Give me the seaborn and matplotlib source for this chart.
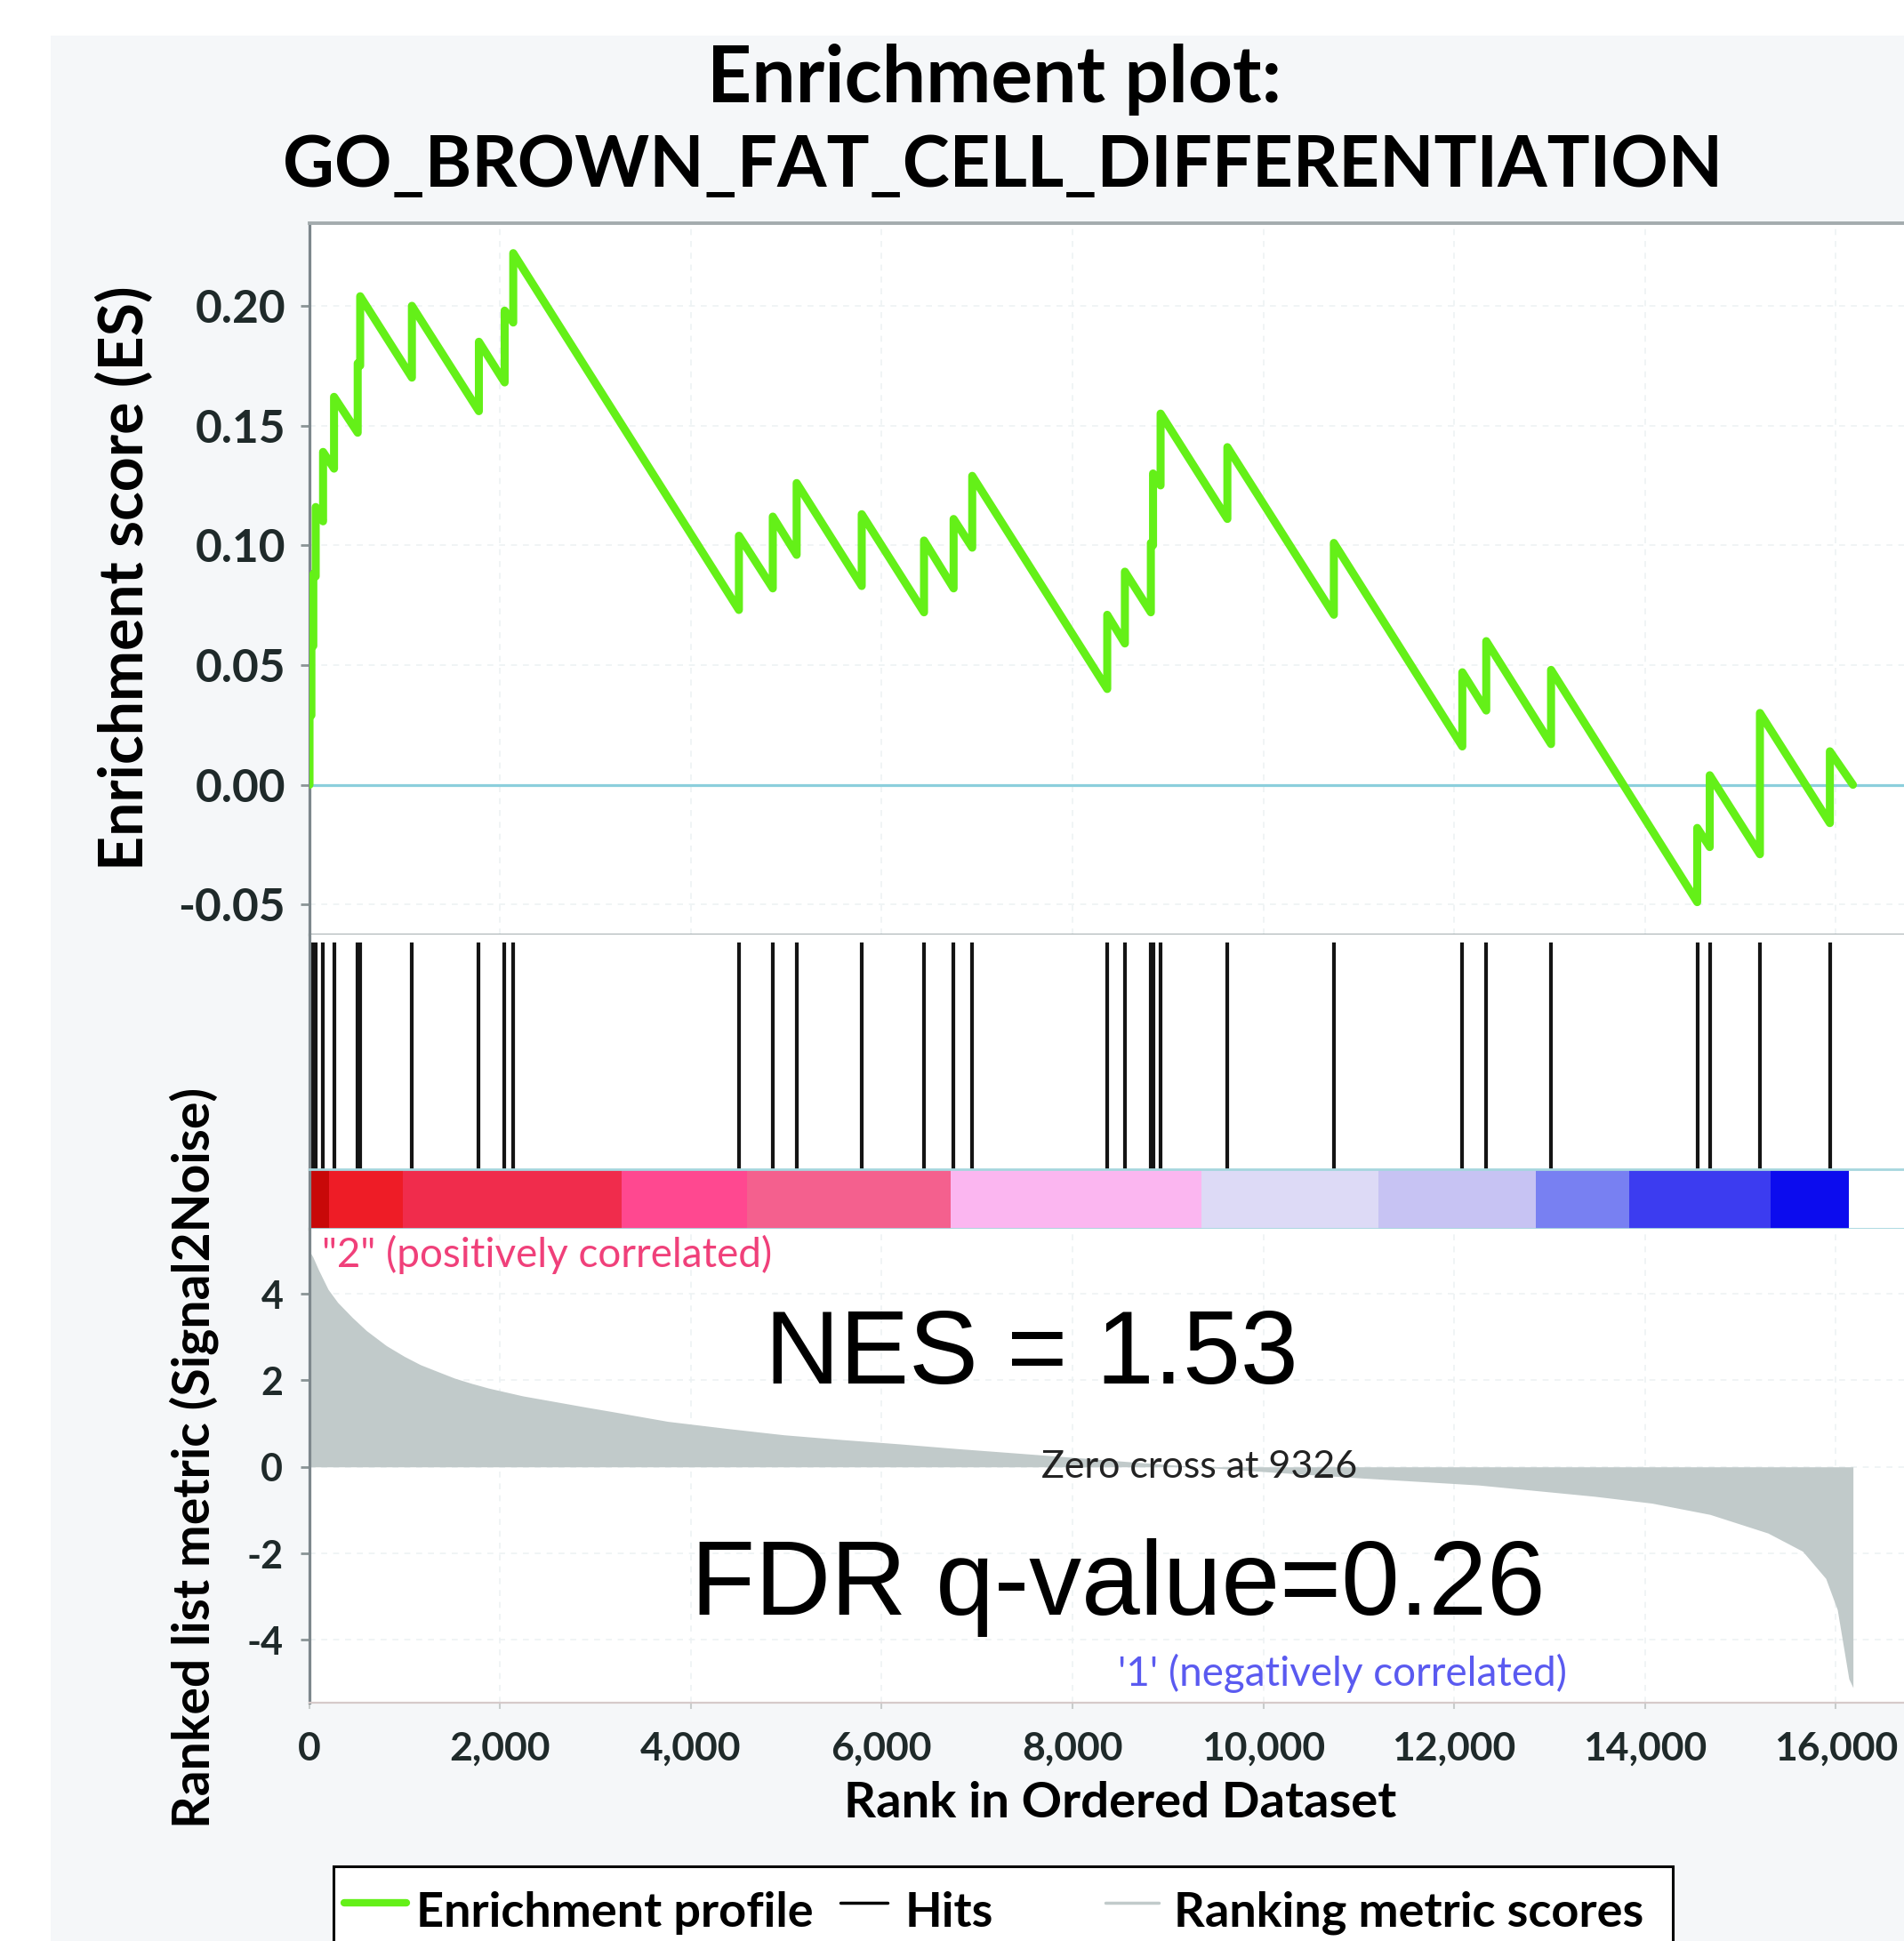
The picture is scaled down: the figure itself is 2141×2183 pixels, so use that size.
import matplotlib
matplotlib.use("Agg")
import matplotlib.pyplot as plt
import seaborn as sns
from matplotlib.lines import Line2D
from matplotlib.patches import Rectangle

# ---------------- data ----------------
N_GENES = 16180
hit_ranks = [5, 25, 45, 70, 147, 262, 510, 536, 1078, 1780, 2050, 2140,
             4505, 4860, 5110, 5792, 6445, 6755, 6950, 8365, 8550, 8822, 8845,
             8924, 9624, 10740, 12086, 12337, 13016, 14548, 14679, 15205, 15938]
es_before = [0.000, 0.029, 0.058, 0.087, 0.110, 0.132, 0.147, 0.175, 0.170, 0.156, 0.168, 0.193,
             0.073, 0.082, 0.096, 0.083, 0.072, 0.082, 0.099, 0.040, 0.059, 0.072, 0.100,
             0.125, 0.111, 0.071, 0.016, 0.031, 0.017, -0.049, -0.026, -0.029, -0.016]
es_after = [0.030, 0.059, 0.088, 0.116, 0.139, 0.162, 0.176, 0.204, 0.200, 0.185, 0.198, 0.222,
            0.104, 0.112, 0.126, 0.113, 0.102, 0.111, 0.129, 0.071, 0.089, 0.101, 0.130,
            0.155, 0.141, 0.101, 0.047, 0.060, 0.048, -0.018, 0.004, 0.030, 0.014]

metric_rank = [0, 40, 100, 200, 300, 454, 600, 810, 1000, 1167, 1350, 1524, 1700, 1880,
               2237, 2594, 2900, 3192, 3761, 4367, 4975, 5582, 6188, 6795, 7402, 8000,
               8700, 9326, 10000, 11042, 12255, 13469, 14075, 14682, 15289, 15652, 15895,
               16016, 16137, 16180]
metric_val = [5.0, 4.85, 4.55, 4.1, 3.8, 3.45, 3.15, 2.8, 2.55, 2.36, 2.2, 2.05, 1.93, 1.82,
              1.64, 1.5, 1.38, 1.27, 1.05, 0.89, 0.74, 0.63, 0.53, 0.42, 0.32, 0.22,
              0.10, 0.0, -0.11, -0.26, -0.42, -0.68, -0.84, -1.1, -1.53, -1.95, -2.58,
              -3.3, -4.9, -5.1]
zero_cross = 9326

bar_start = [0, 214, 980, 3278, 4591, 6724, 9350, 11211, 12852, 13837, 15314]
bar_end = [214, 980, 3278, 4591, 6724, 9350, 11211, 12852, 13837, 15314, 16135]
bar_colors = ["#c80808", "#ee1c26", "#f02c4c", "#ff4890", "#f4608e", "#fbb6f0",
              "#dddaf6", "#c7c3f3", "#7880f2", "#3c3cf0", "#0c0cee"]

es_yticks = [-0.05, 0.00, 0.05, 0.10, 0.15, 0.20]
es_yticklabels = ["-0.05", "0.00", "0.05", "0.10", "0.15", "0.20"]
met_yticks = [-4, -2, 0, 2, 4]
met_yticklabels = ["-4", "-2", "0", "2", "4"]
x_ticks = [0, 2000, 4000, 6000, 8000, 10000, 12000, 14000, 16000]
x_ticklabels = ["0", "2,000", "4,000", "6,000", "8,000", "10,000", "12,000", "14,000", "16,000"]

title1 = "Enrichment plot:"
title2 = "GO_BROWN_FAT_CELL_DIFFERENTIATION"
nes_text = "NES = 1.53"
fdr_text = "FDR q-value=0.26"

# ---------------- figure ----------------
sns.set_theme(style="white")
plt.rcParams["font.family"] = ["Lato", "DejaVu Sans"]

W, H, DPI = 2141, 2183, 100
fig = plt.figure(figsize=(W / DPI, H / DPI), dpi=DPI, facecolor="white")


def fx(px):
    return px / W


def fy(py):
    return 1 - py / H


fig.patches.append(Rectangle((fx(57), 0), 1 - fx(57), fy(40), transform=fig.transFigure,
                             facecolor="#f5f7f9", edgecolor="none", zorder=-10))

X0 = 347.5
PX_PER_RANK = 0.1073
XMAX = (W - X0) / PX_PER_RANK


def add_ax(top, bottom):
    return fig.add_axes([fx(X0), fy(bottom), 1 - fx(X0), (bottom - top) / H])


ax_es = add_ax(251, 1051)
ax_hit = add_ax(1051, 1315)
ax_bar = add_ax(1315, 1382)
ax_met = add_ax(1382, 1915)

for ax in (ax_es, ax_hit, ax_bar, ax_met):
    ax.set_xlim(0, XMAX)
    ax.set_facecolor("white")
    for s in ax.spines.values():
        s.set_visible(False)
    ax.spines["left"].set_visible(True)
    ax.spines["left"].set_color("#7d878c")
    ax.spines["left"].set_linewidth(2.3)

grid_kw = dict(color="#edf2f4", linestyle=(0, (4, 4)), linewidth=1.2)

# ---- ES panel ----
es_x = [0]
es_y = [0.0]
for r, b, a in zip(hit_ranks, es_before, es_after):
    es_x += [r, r]
    es_y += [b, a]
es_x.append(N_GENES)
es_y.append(0.0)

ax_es.set_ylim(-0.0625, 0.2345)
for t in es_yticks:
    ax_es.axhline(t, zorder=0, **grid_kw)
for t in x_ticks:
    ax_es.axvline(t, zorder=0, **grid_kw)
ax_es.axhline(0, color="#8ccfdc", lw=2.3, zorder=1.5)
sns.lineplot(x=es_x, y=es_y, sort=False, estimator=None, color="#64f018",
             linewidth=6.5, ax=ax_es, zorder=3)
ax_es.set_xlabel("")
ax_es.set_ylabel("")
ax_es.spines["top"].set_visible(True)
ax_es.spines["top"].set_color("#a4acae")
ax_es.spines["top"].set_linewidth(2.8)
ax_es.spines["bottom"].set_visible(True)
ax_es.spines["bottom"].set_color("#9aa4a6")
ax_es.spines["bottom"].set_linewidth(2.0)
ax_es.set_xticks([])
ax_es.set_yticks(es_yticks)
ax_es.set_yticklabels(es_yticklabels, fontsize=37, fontweight="bold", color="#1f2a2a")
ax_es.tick_params(axis="y", direction="out", length=7, width=2, color="#8a9496",
                  pad=12, left=True)

# ---- hits panel ----
ax_hit.set_ylim(0, 1)
ax_hit.vlines(hit_ranks, 0, 0.965, colors="#141414", linewidth=3.0)
ax_hit.set_xticks([])
ax_hit.set_yticks([])

# ---- colour bar ----
ax_bar.set_ylim(0, 1)
ax_bar.bar(bar_start, [1] * len(bar_start),
           width=[e - s for s, e in zip(bar_start, bar_end)], align="edge",
           color=bar_colors, linewidth=0)
ax_bar.spines["top"].set_visible(True)
ax_bar.spines["top"].set_color("#a6d6de")
ax_bar.spines["top"].set_linewidth(2.0)
ax_bar.spines["bottom"].set_visible(True)
ax_bar.spines["bottom"].set_color("#a6d6de")
ax_bar.spines["bottom"].set_linewidth(2.0)
ax_bar.set_xticks([])
ax_bar.set_yticks([])

# ---- ranked metric panel ----
ax_met.set_ylim(-5.45, 5.5)
for t in met_yticks:
    ax_met.axhline(t, zorder=0, **grid_kw)
for t in x_ticks:
    ax_met.axvline(t, zorder=0, **grid_kw)
ax_met.fill_between(metric_rank, metric_val, 0, color="#c1caca", linewidth=0, zorder=2)
ax_met.spines["bottom"].set_visible(True)
ax_met.spines["bottom"].set_color("#d6caca")
ax_met.spines["bottom"].set_linewidth(1.6)
ax_met.set_yticks(met_yticks)
ax_met.set_yticklabels(met_yticklabels, fontsize=31, fontweight="bold", color="#1f2a2a")
ax_met.set_xticks(x_ticks)
ax_met.set_xticklabels(x_ticklabels, fontsize=32, fontweight="bold", color="#1f2a2a")
ax_met.tick_params(axis="y", direction="out", length=7, width=2, color="#8a9496",
                   pad=14, left=True)
ax_met.tick_params(axis="x", direction="out", length=5, width=1.5, color="#c8cccc",
                   pad=18, bottom=True)

ax_met.text(zero_cross, 0, "Zero cross at " + str(zero_cross), ha="center", va="center",
            fontsize=31, color="#222222", zorder=4)
fig.text(fx(362), fy(1425), '"2" (positively correlated)', ha="left", va="baseline",
         fontsize=33, color="#f0407a")
fig.text(fx(1257), fy(1896), '\'1\' (negatively correlated)', ha="left", va="baseline",
         fontsize=33, color="#5a5af0")

# ---- big annotations ----
fig.text(fx(860), fy(1556), nes_text, ha="left", va="baseline", fontsize=84,
         family=["Liberation Sans", "DejaVu Sans"], color="black")
fig.text(fx(777), fy(1816), fdr_text, ha="left", va="baseline", fontsize=85,
         family=["Liberation Sans", "DejaVu Sans"], color="black")

# ---- titles and axis labels ----
fig.text(fx(1118), fy(115), title1, ha="center", va="baseline", fontsize=63,
         fontweight="bold", color="black")
fig.text(fx(1128), fy(210), title2, ha="center", va="baseline", fontsize=57.5,
         fontweight="bold", color="black")
fig.text(fx(140), fy(650), "Enrichment score (ES)", rotation=90, ha="center", va="center",
         fontsize=49, fontweight="bold", color="black")
fig.text(fx(218), fy(1639), "Ranked list metric (Signal2Noise)", rotation=90, ha="center",
         va="center", fontsize=41, fontweight="bold", color="black")
fig.text(fx(1260), fy(2028), "Rank in Ordered Dataset", ha="center", va="center",
         fontsize=40.5, fontweight="bold", color="black")

# ---- legend (drawn in figure space) ----
fig.patches.append(Rectangle((fx(375), fy(2200)), fx(1881) - fx(375), fy(2099) - fy(2200),
                             transform=fig.transFigure, facecolor="white",
                             edgecolor="black", linewidth=2.2, zorder=5))
legend_y = fy(2140)
fig.lines.append(Line2D([fx(387), fx(457)], [legend_y, legend_y], transform=fig.transFigure,
                        color="#64f018", linewidth=6, zorder=6))
fig.lines.append(Line2D([fx(945), fx(998)], [legend_y, legend_y], transform=fig.transFigure,
                        color="black", linewidth=2.5, zorder=6))
fig.lines.append(Line2D([fx(1243), fx(1303)], [legend_y, legend_y], transform=fig.transFigure,
                        color="#c1caca", linewidth=2.5, zorder=6))
for x_left, label in [(468, "Enrichment profile"), (1018, "Hits"), (1320, "Ranking metric scores")]:
    fig.text(fx(x_left), fy(2167), label, ha="left", va="baseline", fontsize=39,
             fontweight="bold", color="black", zorder=7)

fig.savefig("out.png", dpi=DPI, facecolor="white")
